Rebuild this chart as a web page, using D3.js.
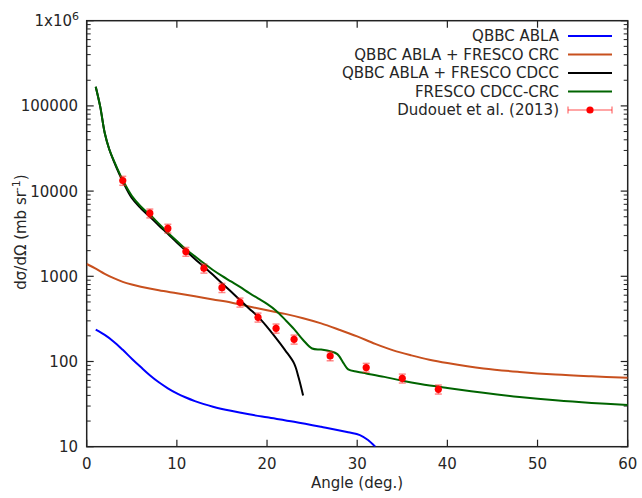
<!DOCTYPE html>
<html><head><meta charset="utf-8">
<script src="https://cdn.jsdelivr.net/npm/d3@7"></script>
<style>body{margin:0;background:#fff}svg{display:block;font-family:"DejaVu Sans",sans-serif}</style>
</head><body>
<script>
// ---- data ----
const ablaX = [1,2,3,4,5,6,7,8,9,10,11,12,13,14,16,18,20,23,26,29,30.3,31.2,32];
const ablaY = [236,205,171,137,108,86,69,57,48.5,42.3,37.8,34.3,31.6,29.5,26.4,24,22.1,19.6,17.1,14.8,13.7,12.0,10.0];

const crcX = [0,1,2,3,4,5,6,8,10,12,14,16,18,20,22,24,26,28,30,32,34,36,38,40,44,48,52,56,60];
const crcY = [1394,1230,1070,950,860,800,755,685,632,582,535,493,442,400,362,322,280,236,197,161,135,118,105,96,83,75.5,70.3,67,64.5];

const cdccX = [1,1.5,2,2.5,3,4,5,6,7,8,9,10,11,12,13,14,15,16,17,18,19,20,21,22,23,23.5,24];
const cdccY = [168000,98000,48000,31000,22500,13000,8300,6300,5000,3950,3150,2500,2000,1600,1297,1040,830,665,527,420,336,255,188,136,95,65,40];

const fcX = [1,1.5,2,2.5,3,4,5,6,7,8,9,10,11,12,13,14,15,16,17,18,19,20,21,22,23,24,25,26,27,27.8,28.5,29,30,31,33,35,37,40,44,48,52,56,60];
const fcY = [168000,98000,48000,31000,23000,13500,8800,6600,5300,4150,3250,2600,2075,1720,1420,1186,1010,870,750,640,550,475,395,310,240,179,142,138,132,122,95,81,76,72.5,66,59.5,54.5,49,43,38.4,35,32.6,30.9];

const expX = [4,7,9,11,13,15,17,19,21,23,27,31,35,39];
const expY = [13300,5500,3650,1950,1240,735,495,330,245,182,116,85,63.5,47.2];
const expErr = [1600,650,430,230,150,90,60,40,30,22,14,10,7.6,5.7];

const xTicks = [0,10,20,30,40,50,60];
const yTicks = [10,100,1000,10000,100000];
const seriesNames = ["QBBC ABLA","QBBC ABLA + FRESCO CRC","QBBC ABLA + FRESCO CDCC","FRESCO CDCC-CRC","Dudouet et al. (2013)"];
const seriesColors = ["#0000ff","#c8501e","#000000","#006400","#ff0000"];

// ---- chart ----
const W=642,H=498;
const L=86.7,R=627.7,T=20.7,B=446.7;
const svg=d3.select("body").append("svg").attr("width",W).attr("height",H);
const x=d3.scaleLinear().domain([0,60]).range([L,R]);
const y=d3.scaleLog().domain([10,1e6]).range([B,T]);

const axisColor="#222";
const txtColor="#262626";
const minor=[];
for(let d=10; d<1e6; d*=10){ for(let k=2;k<=9;k++) minor.push(d*k); }

const g=svg.append("g");
[[L,1],[R,-1]].forEach(([xx,s])=>{
  g.selectAll(null).data(yTicks.concat([1e6])).enter().append("line")
    .attr("x1",xx).attr("x2",xx+s*7).attr("y1",d=>y(d)).attr("y2",d=>y(d))
    .attr("stroke",axisColor).attr("stroke-width",1.2);
  g.selectAll(null).data(minor).enter().append("line")
    .attr("x1",xx).attr("x2",xx+s*4).attr("y1",d=>y(d)).attr("y2",d=>y(d))
    .attr("stroke",axisColor).attr("stroke-width",1);
});
[[B,-1],[T,1]].forEach(([yy,s])=>{
  g.selectAll(null).data(xTicks).enter().append("line")
    .attr("x1",d=>x(d)).attr("x2",d=>x(d)).attr("y1",yy).attr("y2",yy+s*7)
    .attr("stroke",axisColor).attr("stroke-width",1.2);
});
g.append("rect").attr("x",L).attr("y",T).attr("width",R-L).attr("height",B-T)
  .attr("fill","none").attr("stroke",axisColor).attr("stroke-width",1.5);

g.selectAll(null).data(xTicks).enter().append("text")
  .attr("x",d=>x(d)).attr("y",B+22).attr("text-anchor","middle")
  .attr("font-size",15).attr("fill",txtColor).text(d=>d);
g.selectAll(null).data(yTicks).enter().append("text")
  .attr("x",78).attr("y",d=>y(d)).attr("dy","0.36em").attr("text-anchor","end")
  .attr("font-size",15).attr("fill",txtColor).text(d=>d);
const topLabel=g.append("text").attr("x",79).attr("y",25.5).attr("text-anchor","end").attr("font-size",15).attr("fill",txtColor);
topLabel.append("tspan").text("1x10");
topLabel.append("tspan").attr("dy",-6).attr("font-size",11).text("6");

g.append("text").attr("x",357).attr("y",488).attr("text-anchor","middle")
  .attr("font-size",15).attr("fill",txtColor).text("Angle (deg.)");
const yl=g.append("text").attr("transform","translate(26,232) rotate(-90)")
  .attr("text-anchor","middle").attr("font-size",15).attr("fill",txtColor);
yl.append("tspan").text("dσ/dΩ (mb sr");
yl.append("tspan").attr("dy",-6).attr("font-size",11).text("-1");
yl.append("tspan").attr("dy",6).text(")");

svg.append("clipPath").attr("id","c").append("rect")
  .attr("x",L).attr("y",T).attr("width",R-L).attr("height",B-T);
const line=d3.line().x(d=>x(d[0])).y(d=>y(d[1])).curve(d3.curveCatmullRom.alpha(0.5));
const series=[[ablaX,ablaY],[crcX,crcY],[cdccX,cdccY],[fcX,fcY]];
const pl=svg.append("g").attr("clip-path","url(#c)");
series.forEach(([xs,ys],i)=>{
  pl.append("path").datum(xs.map((v,j)=>[v,ys[j]]))
    .attr("d",line).attr("fill","none").attr("stroke",seriesColors[i]).attr("stroke-width",2);
});

const pts=expX.map((v,i)=>({x:v,y:expY[i],e:expErr[i]}));
const eg=svg.append("g");
const ebColor="rgba(255,40,40,0.55)";
pts.forEach(p=>{
  eg.append("line").attr("x1",x(p.x)).attr("x2",x(p.x)).attr("y1",y(p.y-p.e)).attr("y2",y(p.y+p.e))
    .attr("stroke",ebColor).attr("stroke-width",1.5);
  [p.y-p.e,p.y+p.e].forEach(v=>eg.append("line").attr("x1",x(p.x)-3.5).attr("x2",x(p.x)+3.5)
    .attr("y1",y(v)).attr("y2",y(v)).attr("stroke",ebColor).attr("stroke-width",1.5));
});
eg.selectAll(null).data(pts).enter().append("circle")
  .attr("cx",d=>x(d.x)).attr("cy",d=>y(d.y)).attr("r",3.6).attr("fill","#ff0000");

const lg=svg.append("g");
const ly0=36, ldy=18.5, lx1=568, lx2=612;
seriesNames.forEach((n,i)=>{
  const yy=ly0+i*ldy;
  lg.append("text").attr("x",559).attr("y",yy).attr("dy","0.36em").attr("text-anchor","end")
    .attr("font-size",15).attr("fill",txtColor).text(n);
  if(i<4){
    lg.append("line").attr("x1",lx1).attr("x2",lx2).attr("y1",yy).attr("y2",yy)
      .attr("stroke",seriesColors[i]).attr("stroke-width",2);
  } else {
    lg.append("line").attr("x1",lx1).attr("x2",lx2).attr("y1",yy).attr("y2",yy).attr("stroke",ebColor).attr("stroke-width",1.5);
    [lx1,lx2].forEach(xx=>lg.append("line").attr("x1",xx).attr("x2",xx).attr("y1",yy-3.5).attr("y2",yy+3.5).attr("stroke",ebColor).attr("stroke-width",1.5));
    lg.append("circle").attr("cx",(lx1+lx2)/2).attr("cy",yy).attr("r",3.6).attr("fill","#ff0000");
  }
});
</script>
</body></html>
